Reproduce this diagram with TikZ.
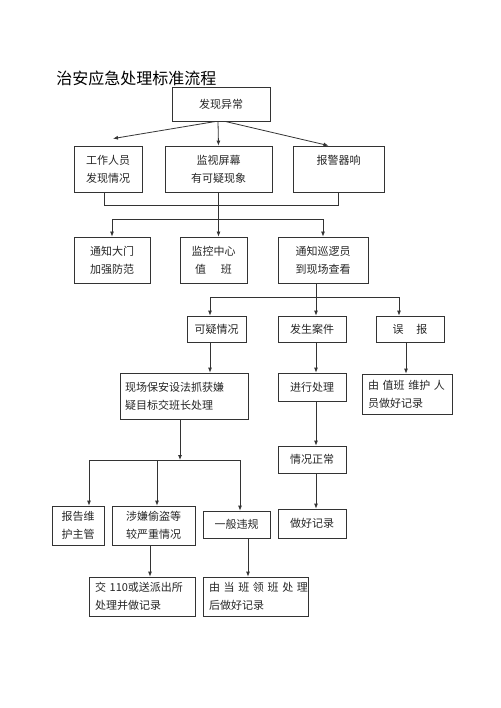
\documentclass[tikz,border=0pt]{standalone}
\usepackage{fontspec}
\newfontfamily\cjk{Noto Sans CJK SC}
\usetikzlibrary{arrows.meta}

\begin{document}
\begin{tikzpicture}[->,>={Latex[length=5pt,width=4pt]},x=1pt,y=-1pt,line width=0.8pt,color=black!80]
	\tikzstyle{every node}=[shape=rectangle,draw=black!80,text=black!85,inner sep=0pt,align=center,font=\cjk\fontsize{11}{18}\selectfont]
	\useasboundingbox (0,0) rectangle (500,708);
	
	\node[draw=none,anchor=west,text=black,font=\cjk\fontsize{16}{16}\selectfont] (0) at (56,78) {治安应急处理标准流程};
	
	\node[minimum width=98pt,minimum height=34pt]  (1)  at (221,104)   {发现异常};
	\node[minimum width=68pt,minimum height=46pt]  (2)  at (108,169)   {工作人员\\发现情况};
	\node[minimum width=107pt,minimum height=46pt] (3)  at (218.5,169) {监视屏幕\\有可疑现象};
	\node[minimum width=91pt,minimum height=46pt]  (4)  at (338.5,169) {报警器响\\\mbox{}};
	\node[minimum width=76pt,minimum height=46pt]  (5)  at (112,260)   {通知大门\\加强防范};
	\node[minimum width=67pt,minimum height=46pt]  (6)  at (213.5,260) {监控中心\\值\hspace{15pt}班};
	\node[minimum width=90pt,minimum height=46pt]  (7)  at (323,260)   {通知巡逻员\\到现场查看};
	\node[minimum width=59pt,minimum height=26pt]  (8)  at (216.5,329) {可疑情况};
	\node[minimum width=68pt,minimum height=26pt]  (9)  at (312,329)   {发生案件};
	\node[minimum width=68pt,minimum height=26pt]  (10) at (410,329)   {误\hspace{13pt}报};
	\node[minimum width=128pt,minimum height=46pt,text width=118pt,align=left] (11) at (184,396) {现场保安设法抓获嫌\\疑目标交班长处理};
	\node[minimum width=68pt,minimum height=28pt]  (12) at (312,387)   {进行处理};
	\node[minimum width=90pt,minimum height=40pt,text width=78pt,align=left] (13) at (407,394) {\mbox{由 值班 维护 人}\\员做好记录};
	\node[minimum width=68pt,minimum height=27pt]  (17) at (312,459.5) {情况正常};
	\node[minimum width=52pt,minimum height=39pt]  (14) at (78,525.5)  {报告维\\护主管};
	\node[minimum width=83pt,minimum height=39pt]  (15) at (153.5,525.5) {涉嫌偷盗等\\较严重情况};
	\node[minimum width=67pt,minimum height=27pt]  (16) at (236.5,524.5) {一般违规};
	\node[minimum width=68pt,minimum height=29pt]  (18) at (312,523.5) {做好记录};
	\node[minimum width=106pt,minimum height=39pt,text width=94pt,align=left] (19) at (142,596.5) {交 110或送派出所\\处理并做记录};
	\node[minimum width=105pt,minimum height=39pt,text width=93pt,align=left] (20) at (255.5,596.5) {\mbox{由 当 班 领 班 处 理}\\后做好记录};
	
	\coordinate (a) at (218.5,219);
	\coordinate (b) at (316,297);
	\coordinate (c) at (180,460);
	
	\draw ([xshift=-5pt]1.south) -- ([xshift=5pt,yshift=7pt]2.north);
	\draw ([xshift=-3pt]1.south) -- (3.north);
	\draw ([xshift=4pt]1.south) -- ([xshift=-10pt]4.north);
	
	\draw[-] ([xshift=-4pt]2.south) -- ++(0,13) -| (4.south);
	\draw (3.south) -- (3.south |- 6.north);
	\draw (a) -| (5.north);
	\draw (a) -| (7.north);
	
	\draw ([xshift=-7pt]7.south) -- ([xshift=4pt]9.north);
	\draw (b) -| ([xshift=-6.5pt]8.north);
	\draw (b) -| ([xshift=-11pt]10.north);
	
	\draw ([xshift=-6.5pt]8.south) -- ([xshift=-6.5pt]8.south |- 11.north);
	\draw ([xshift=4pt]9.south) -- ([xshift=4pt]12.north);
	\draw ([xshift=-4pt]10.south) -- ([xshift=-4pt]10.south |- 13.north);
	
	\draw ([xshift=-4pt]11.south) -- (c);
	\draw (c) -| ([xshift=11pt]14.north);
	\draw (c) -| ([xshift=3.5pt]15.north);
	\draw (c) -| ([xshift=3.5pt]16.north);
	\draw ([xshift=4pt]12.south) -- ([xshift=4pt]17.north);
	\draw ([xshift=4pt]17.south) -- ([xshift=4pt]18.north);
	
	\draw ([xshift=-3.5pt]15.south) -- ([xshift=-3.5pt]15.south |- 19.north);
	\draw ([xshift=11.5pt]16.south) -- ([xshift=11.5pt]16.south |- 20.north);
\end{tikzpicture}
\end{document}
